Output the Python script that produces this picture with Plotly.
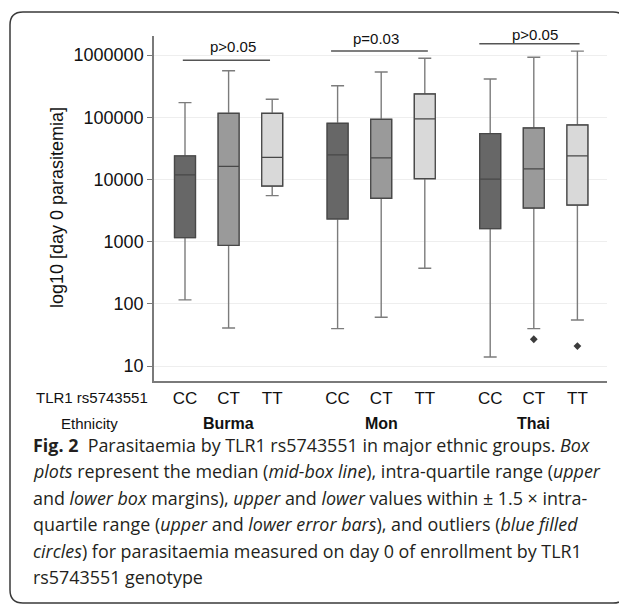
import math
import plotly.graph_objects as go

# ---------------- data ----------------
groups = ["Burma", "Mon", "Thai"]
genotypes = ["CC", "CT", "TT"]
# order: Burma CC, CT, TT, Mon CC, CT, TT, Thai CC, CT, TT
lower_whisker = [116, 41, 5500, 40, 61, 373, 14, 40, 55]
q1_vals = [1160, 875, 7850, 2320, 4990, 10300, 1620, 3480, 3890]
median_vals = [11900, 16300, 22700, 24800, 22200, 94000, 10100, 14800, 23900]
q3_vals = [23900, 116000, 116000, 80100, 92900, 237000, 54500, 67300, 75100]
upper_whisker = [172000, 561000, 195000, 322000, 535000, 889000, 413000, 922000, 1160000]
outlier_group = ["Thai", "Thai"]
outlier_genotype = ["CT", "TT"]
outlier_values = [27, 21]
p_texts = ["p&gt;0.05", "p=0.03", "p&gt;0.05"]
ytick_vals = [10, 100, 1000, 10000, 100000, 1000000]
ytick_text = ["10", "100", "1000", "10000", "100000", "1000000"]

# ---------------- layout helpers ----------------
OFF = 8  # page body margin
W, H = 627 - OFF, 604 - OFF
PL, PR, PT, PB = 154, 607, 36, 381  # plot area in page px
YR = [0.760, 6.307]
XR = [-0.711, 9.679]
GROUP_STEP = 3.5


def pxx(px):
    return (px - PL) / (PR - PL)


def pxy(py):
    return (PB - py) / (PB - PT)


def datax(px):
    return XR[0] + (px - PL) / (PR - PL) * (XR[1] - XR[0])


fills = {"CC": "#676767", "CT": "#9a9a9a", "TT": "#d9d9d9"}
WHISKER_COLOR = "#7c7c7c"
BOX_LINE = "#484848"
TXT = "#111111"
AX_FONT = "Liberation Sans, Arial, sans-serif"
CAP_FONT = "Open Sans, Noto Sans, sans-serif"

fig = go.Figure()

positions = []
labels = []
for gi, g in enumerate(groups):
    for ki, k in enumerate(genotypes):
        positions.append(gi * GROUP_STEP + ki)
        labels.append(k)

for i, pos in enumerate(positions):
    gt = labels[i]
    fig.add_trace(go.Box(
        x=[pos], q1=[q1_vals[i]], median=[median_vals[i]], q3=[q3_vals[i]],
        lowerfence=[lower_whisker[i]], upperfence=[upper_whisker[i]],
        width=0.48, whiskerwidth=0.62, fillcolor=fills[gt],
        line=dict(color=WHISKER_COLOR, width=1.4),
        boxpoints=False, showlegend=False, hoverinfo="skip"))
    fig.add_trace(go.Box(
        x=[pos], q1=[q1_vals[i]], median=[median_vals[i]], q3=[q3_vals[i]],
        lowerfence=[q1_vals[i]], upperfence=[q3_vals[i]],
        width=0.48, whiskerwidth=0.0, fillcolor=fills[gt],
        line=dict(color=BOX_LINE, width=1.3),
        boxpoints=False, showlegend=False, hoverinfo="skip"))

ox = [groups.index(g) * GROUP_STEP + genotypes.index(k)
      for g, k in zip(outlier_group, outlier_genotype)]
fig.add_trace(go.Scatter(
    x=ox, y=outlier_values, mode="markers",
    marker=dict(symbol="diamond", size=6, color="#3c3c3c"),
    showlegend=False, hoverinfo="skip", cliponaxis=False))

bracket_px_y = [60.3, 51.0, 43.7]
bracket_pad = [(-0.05, 1.95), (-0.15, 2.07), (-0.25, 2.05)]
ptext_px = [(233, 46.7), (376, 38.3), (535, 35.0)]
shapes = []
annotations = []
for gi in range(len(groups)):
    base = gi * GROUP_STEP
    shapes.append(dict(type="line", xref="x", yref="paper",
                       x0=base + bracket_pad[gi][0], x1=base + bracket_pad[gi][1],
                       y0=pxy(bracket_px_y[gi]), y1=pxy(bracket_px_y[gi]),
                       line=dict(color="#555555", width=1.5)))
    annotations.append(dict(text=p_texts[gi], xref="x", yref="paper",
                            x=datax(ptext_px[gi][0]), y=pxy(ptext_px[gi][1]),
                            xanchor="center", yanchor="middle", showarrow=False,
                            borderpad=0,
                            font=dict(family=AX_FONT, size=15, color=TXT)))
    annotations.append(dict(text="<b>" + groups[gi] + "</b>", xref="x", yref="paper",
                            x=base + 1, y=pxy(423), xanchor="center", yanchor="middle",
                            showarrow=False, borderpad=0,
                            font=dict(family=AX_FONT, size=16, color=TXT)))

annotations.append(dict(text="TLR1 rs5743551", xref="paper", yref="paper",
                        x=pxx(92), y=pxy(397.7), xanchor="center", yanchor="middle",
                        showarrow=False, borderpad=0,
                        font=dict(family=AX_FONT, size=15, color=TXT)))
annotations.append(dict(text="Ethnicity", xref="paper", yref="paper",
                        x=pxx(89), y=pxy(423), xanchor="center", yanchor="middle",
                        showarrow=False, borderpad=0,
                        font=dict(family=AX_FONT, size=15, color=TXT)))
annotations.append(dict(text="log10 [day 0 parasitemia]", xref="paper", yref="paper",
                        x=pxx(57), y=pxy(208), xanchor="center", yanchor="middle",
                        textangle=-90, showarrow=False, borderpad=0,
                        font=dict(family=AX_FONT, size=18, color=TXT)))

caption_lines = [
    "<b>Fig. 2</b>&nbsp; Parasitaemia by TLR1 rs5743551 in major ethnic groups. <i>Box</i>",
    "<i>plots</i> represent the median (<i>mid-box line</i>), intra-quartile range (<i>upper</i>",
    "and <i>lower box</i> margins), <i>upper</i> and <i>lower</i> values within \u00b1 1.5 \u00d7 intra-",
    "quartile range (<i>upper</i> and <i>lower error bars</i>), and outliers (<i>blue filled</i>",
    "<i>circles</i>) for parasitaemia measured on day 0 of enrollment by TLR1",
    "rs5743551 genotype",
]
for li, line in enumerate(caption_lines):
    annotations.append(dict(text=line, xref="paper", yref="paper",
                            x=pxx(32), y=pxy(445 + li * 26.4),
                            xanchor="left", yanchor="middle", showarrow=False,
                            borderpad=0,
                            font=dict(family=CAP_FONT, size=17.9, color="#231f20")))

bx0, by0, bx1, by1, rr = 10, 12, 626, 603, 13
path = (f"M {pxx(bx0 + rr)},{pxy(by0)} L {pxx(bx1 - rr)},{pxy(by0)} "
        f"Q {pxx(bx1)},{pxy(by0)} {pxx(bx1)},{pxy(by0 + rr)} "
        f"L {pxx(bx1)},{pxy(by1 - rr)} Q {pxx(bx1)},{pxy(by1)} {pxx(bx1 - rr)},{pxy(by1)} "
        f"L {pxx(bx0 + rr)},{pxy(by1)} Q {pxx(bx0)},{pxy(by1)} {pxx(bx0)},{pxy(by1 - rr)} "
        f"L {pxx(bx0)},{pxy(by0 + rr)} Q {pxx(bx0)},{pxy(by0)} {pxx(bx0 + rr)},{pxy(by0)} Z")
shapes.append(dict(type="path", xref="paper", yref="paper", path=path,
                   line=dict(color="#3a3a3a", width=1.5), layer="below"))

fig.update_layout(
    width=W, height=H,
    margin=dict(l=PL - OFF, r=(W + OFF) - PR, t=PT - OFF, b=(H + OFF) - PB, pad=0),
    paper_bgcolor="white", plot_bgcolor="white",
    shapes=shapes, annotations=annotations,
    showlegend=False,
    xaxis=dict(range=XR, tickmode="array", tickvals=positions, ticktext=labels,
               showgrid=False, zeroline=False, showline=True, linecolor="#7a7a7a",
               linewidth=1.5, ticks="outside", ticklen=1, tickcolor="rgba(0,0,0,0)",
               tickfont=dict(family=AX_FONT, size=17, color=TXT)),
    yaxis=dict(type="log", range=YR, tickmode="array", tickvals=ytick_vals,
               ticktext=ytick_text, showgrid=True, gridcolor="#eeeeee", gridwidth=1,
               zeroline=False, showline=True, linecolor="#7a7a7a", linewidth=1.5,
               ticks="outside", ticklen=5, tickcolor="#7a7a7a", tickwidth=1.2,
               tickfont=dict(family=AX_FONT, size=18, color=TXT)),
)

fig.write_html("out.html")
